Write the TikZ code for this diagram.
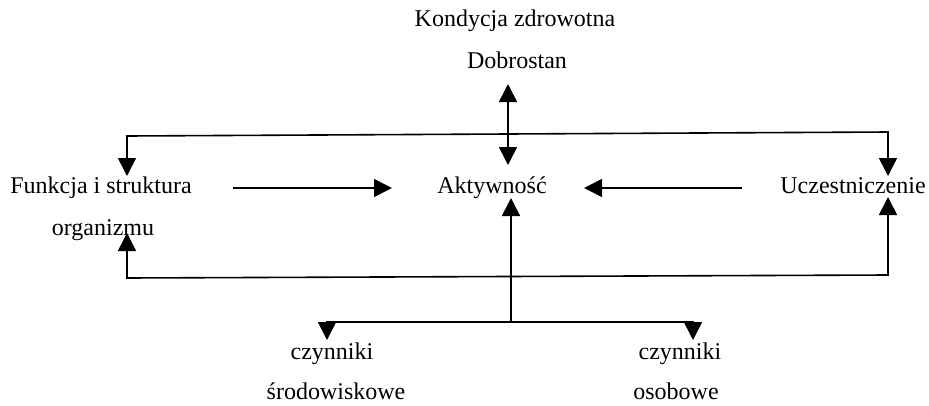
\documentclass[tikz,border=0pt]{standalone}
\usepackage{fontspec}
\setmainfont{Liberation Serif}
\usetikzlibrary{arrows.meta,positioning}

\begin{document}
\begin{tikzpicture}[x=1pt,y=-1pt,
        lbl/.style={anchor=base,inner sep=0pt,font=\fontsize{24}{42}\selectfont,align=center},
        conn/.style={line width=1.6pt},
        arr/.style={conn,-{Triangle[width=18pt,length=18pt]}},
        darr/.style={conn,{Triangle[width=18pt,length=18pt]}-{Triangle[width=18pt,length=18pt]}}]
        \useasboundingbox (0,0) rectangle (929,405);

        % labels
        \node[lbl] (kondycja) at (515,26) {Kondycja zdrowotna};
        \node[lbl] (dobrostan) at (517,68) {Dobrostan};
        \node[lbl] (funkcja) at (101,193) {Funkcja i struktura};
        \node[lbl] (organizm) at (103,235) {organizmu};
        \node[lbl] (aktyw) at (492,193) {Aktywność};
        \node[lbl] (uczest) at (853,193) {Uczestniczenie};
        \node[lbl] (czynsr) at (332,359) {czynniki};
        \node[lbl] (srodow) at (336,399) {środowiskowe};
        \node[lbl] (czynos) at (680,359) {czynniki};
        \node[lbl] (osob) at (676,399) {osobowe};

        % connector ends
        \coordinate (dobroTip) at (508,84);
        \coordinate (aktywTop) at (508,165);
        \coordinate (funkTop) at (127,176);
        \coordinate (ucTop) at (888,176);
        \coordinate (topL) at (127,136);
        \coordinate (topR) at (888,132);
        \coordinate (funkBot) at (127,233);
        \coordinate (ucBot) at (888,197);
        \coordinate (botL) at (127,278);
        \coordinate (botR) at (888,275);
        \coordinate (funkOut) at (233,188);
        \coordinate (aktywL) at (392,188);
        \coordinate (ucOut) at (742,188);
        \coordinate (aktywR) at (584,188);
        \coordinate (aktywBot) at (511,198);
        \coordinate (fork) at (511,322);
        \coordinate (forkL) at (327,322);
        \coordinate (forkR) at (693,322);
        \coordinate (srTip) at (327,340);
        \coordinate (osTip) at (693,340);

        % connectors
        \draw[darr] (dobroTip) -- (aktywTop);
        \draw[darr] (funkTop) -- (topL) -- (topR) -- (ucTop);
        \draw[darr] (funkBot) -- (botL) -- (botR) -- (ucBot);
        \draw[arr] (funkOut) -- (aktywL);
        \draw[arr] (ucOut) -- (aktywR);
        \draw[arr] (fork) -- (aktywBot);
        \draw[darr] (srTip) -- (forkL) -- (forkR) -- (osTip);
    \end{tikzpicture}
\end{document}
